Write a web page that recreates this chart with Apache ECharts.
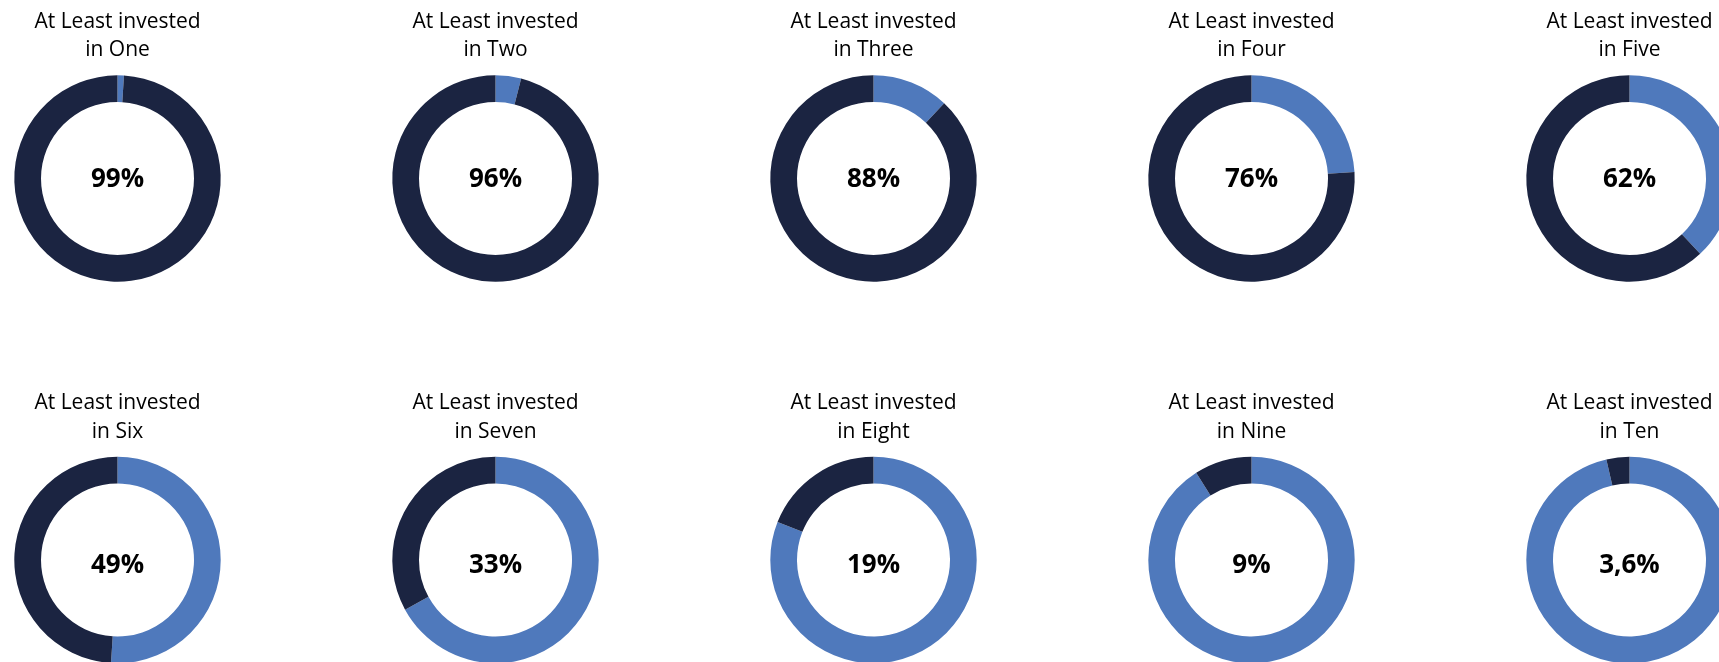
<!DOCTYPE html>
<html>
<head>
<meta charset="utf-8">
<script src="https://cdn.jsdelivr.net/npm/echarts@6/dist/echarts.min.js"></script>
<style>
  html, body { margin: 0; padding: 0; background: #fff; }
  #chart { width: 1719px; height: 662px; }
</style>
</head>
<body>
<div id="chart"></div>
<script>
// share of respondents that invested in at least N
const countNames = ['One', 'Two', 'Three', 'Four', 'Five', 'Six', 'Seven', 'Eight', 'Nine', 'Ten'];
const atLeastShare = [99, 96, 88, 76, 62, 49, 33, 19, 9, 3.6];

const darkColor = '#1b2441';
const blueColor = '#4f79bc';
const fontFamily = '"Open Sans", sans-serif';

let chart = echarts.init(document.getElementById('chart'));

const titles = [];
const seriesList = [];
countNames.forEach(function (name, i) {
    const col = i % 5;
    const row = Math.floor(i / 5);
    const cx = 117.5 + col * 378;
    const cy = 178.5 + row * 381.5;
    const v = atLeastShare[i];
    titles.push({
        text: 'At Least invested\nin ' + name,
        left: cx,
        top: 7.5 + row * 381.3,
        padding: 0,
        textAlign: 'center',
        textStyle: {
            fontFamily: fontFamily,
            fontSize: 21,
            fontWeight: 'normal',
            color: '#000',
            lineHeight: 28.5
        }
    });
    seriesList.push({
        type: 'pie',
        center: [cx, cy],
        radius: [76.5, 103.2],
        startAngle: 90,
        clockwise: true,
        silent: true,
        animation: false,
        label: { show: false },
        labelLine: { show: false },
        data: [
            { value: Math.round((100 - v) * 10) / 10, itemStyle: { color: blueColor } },
            {
                value: v,
                itemStyle: { color: darkColor },
                label: {
                    show: true,
                    position: 'center',
                    offset: [0, row === 0 ? 0.7 : 5.9],
                    formatter: String(v).replace('.', ',') + '%',
                    fontFamily: fontFamily,
                    fontSize: 26,
                    fontWeight: 'bold',
                    color: '#000'
                }
            }
        ]
    });
});

chart.setOption({
    title: titles,
    series: seriesList
});
</script>
</body>
</html>
